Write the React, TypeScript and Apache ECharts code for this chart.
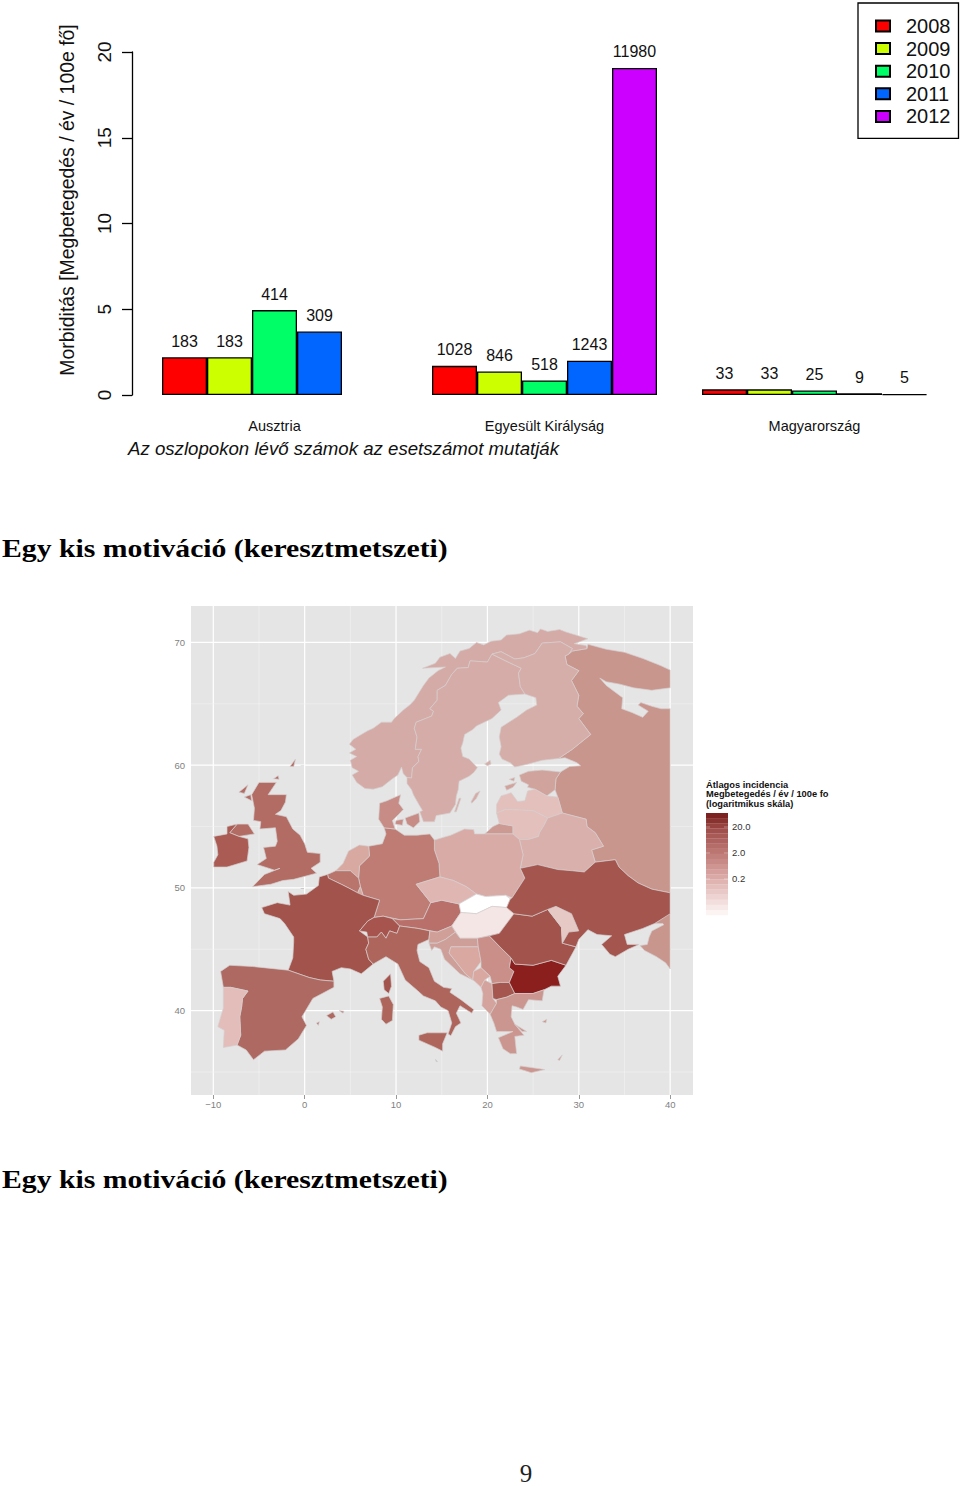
import React, { useEffect, useRef } from "react";
import * as echarts from "echarts";

const groups = ["Ausztria", "Egyesült Királyság", "Magyarország"];
const years = ["2008", "2009", "2010", "2011", "2012"];
const yearColors = ["#ff0000", "#ccff00", "#00ff66", "#0066ff", "#cc00ff"];
const rate2008 = [2.2, 1.7, 0.33];
const rate2009 = [2.2, 1.37, 0.33];
const rate2010 = [4.95, 0.85, 0.26];
const rate2011 = [3.7, 2.0, 0.1];
const rate2012: (number | null)[] = [null, 19.07, 0.05];
const cases2008 = ["183", "1028", "33"];
const cases2009 = ["183", "846", "33"];
const cases2010 = ["414", "518", "25"];
const cases2011 = ["309", "1243", "9"];
const cases2012 = ["", "11980", "5"];
const rates = [rate2008, rate2009, rate2010, rate2011, rate2012];
const cases = [cases2008, cases2009, cases2010, cases2011, cases2012];

const lonMajor = [-10, 0, 10, 20, 30, 40];
const lonMinor = [-5, 5, 15, 25, 35];
const latMajor = [40, 50, 60, 70];
const latMinor = [35, 45, 55, 65];
const legendLabels = ["20.0", "2.0", "0.2"];

type P = number[];
const norway: P = [11.2,59.0,10.8,59.3,10.6,59.85,10.2,59.2,9.6,58.9,8.5,58.25,7.5,58.05,6.6,58.1,5.7,58.6,5.2,59.2,5.9,59.5,5.2,59.8,5.0,60.4,5.7,60.7,4.9,61.0,5.6,61.3,4.9,61.7,5.3,62.1,6.2,62.5,6.9,62.8,7.5,63.0,8.4,63.5,9.5,63.5,9.8,63.8,10.8,64.5,11.5,64.9,12.0,65.3,12.5,65.9,13.0,66.5,13.6,67.1,14.6,67.7,15.4,68.0,12.9,67.9,14.3,68.3,14.8,68.8,15.9,69.1,16.5,68.7,17.0,69.3,18.0,69.5,18.8,70.0,19.6,69.8,20.4,70.1,21.5,70.2,22.1,70.6,23.5,70.7,24.6,71.0,25.5,70.8,25.8,71.1,26.6,70.9,27.9,71.05,28.6,70.85,31.0,70.3,29.5,69.9,30.8,69.75,30.9,69.5,29.3,69.3,28.9,69.05,29.3,69.5,28.0,70.05,26.0,69.95,25.2,69.1,24.0,68.75,23.0,68.65,21.5,69.25,20.5,69.05,20.0,68.4,18.1,68.5,17.9,67.95,16.7,67.9,16.1,67.4,15.4,66.5,14.5,66.1,14.5,65.3,13.7,64.6,14.1,64.4,13.9,64.0,12.2,63.5,12.0,63.0,12.3,62.3,12.1,61.3,12.8,61.3,12.4,60.7,12.5,60.3,11.8,59.8,11.7,58.95];
const sweden: P = [11.2,59.0,11.2,58.5,11.7,58.0,11.9,57.6,12.5,56.8,12.9,56.3,12.6,56.2,13.0,55.4,14.2,55.4,14.4,55.9,15.9,56.1,16.5,56.8,16.6,57.5,16.8,58.0,16.9,58.7,18.0,59.1,18.5,59.4,18.9,59.8,18.0,60.5,17.3,60.7,17.1,61.4,17.3,61.8,17.5,62.5,18.4,62.9,18.8,63.2,20.5,63.8,21.5,64.5,21.2,65.1,22.3,65.7,24.1,65.8,23.6,66.4,23.4,67.5,23.7,67.9,22.0,68.5,20.5,69.05,20.0,68.4,18.1,68.5,17.9,67.95,16.7,67.9,16.1,67.4,15.4,66.5,14.5,66.1,14.5,65.3,13.7,64.6,14.1,64.4,13.9,64.0,12.2,63.5,12.0,63.0,12.3,62.3,12.1,61.3,12.8,61.3,12.4,60.7,12.5,60.3,11.8,59.8,11.7,58.95];
const gotland: P = [18.2,57.0,18.7,57.7,19.2,57.9,18.8,57.3,18.3,56.9];
const oland: P = [16.4,56.2,16.9,57.3,17.1,57.3,16.6,56.2];
const finland: P = [24.1,65.8,25.3,65.5,25.4,64.9,24.3,64.5,23.2,63.9,21.5,63.1,21.3,62.3,21.5,61.5,21.3,60.9,21.6,60.5,22.5,60.2,23.0,59.85,24.5,60.1,26.0,60.4,27.8,60.55,29.3,61.3,31.3,62.5,30.0,63.8,30.5,64.2,29.8,64.8,30.0,65.7,29.2,66.9,30.0,67.7,28.7,68.2,28.5,68.9,28.9,69.05,29.3,69.5,28.0,70.05,26.0,69.95,25.2,69.1,24.0,68.75,23.0,68.65,21.5,69.25,20.5,69.05,22.0,68.5,23.7,67.9,23.4,67.5,23.6,66.4];
const aland: P = [19.7,60.1,20.3,60.4,20.4,60.1,20.0,59.95];
const russia: P = [29.3,69.3,30.9,69.5,31.0,69.85,33.0,69.45,35.0,69.2,37.0,68.7,39.0,68.1,40.0,67.75,40.0,66.3,38.0,66.1,36.0,66.3,34.5,66.6,33.0,66.8,32.3,67.1,33.0,66.5,34.8,65.5,34.7,64.6,35.8,64.3,37.0,63.9,37.6,64.4,36.5,64.9,36.8,65.1,38.0,64.8,39.0,64.6,40.0,64.6,40.0,49.6,38.0,49.9,36.5,50.4,35.4,51.0,34.4,51.7,34.0,52.3,31.8,52.1,31.4,53.1,32.7,53.4,31.8,54.5,30.9,55.0,30.8,55.6,28.2,56.1,27.7,57.4,27.4,58.0,27.5,58.9,28.0,59.45,29.0,59.9,30.2,59.95,29.8,60.2,28.5,60.6,27.8,60.55,29.3,61.3,31.3,62.5,30.0,63.8,30.5,64.2,29.8,64.8,30.0,65.7,29.2,66.9,30.0,67.7,28.7,68.2,28.5,68.9,28.9,69.05];
const russiaSouth: P = [40.0,47.9,39.8,47.85,38.3,47.1,39.2,47.1,39.3,47.0,38.0,46.5,37.7,46.0,37.5,45.4,36.7,45.3,37.2,44.9,38.5,44.4,39.5,43.9,40.0,43.4];
const kaliningrad: P = [19.7,54.4,22.8,54.4,22.8,55.05,21.3,55.25,20.6,55.0];
const estonia: P = [23.5,59.2,24.5,59.5,26.0,59.6,28.0,59.45,27.5,58.9,27.4,58.0,26.5,57.5,25.2,58.05,24.4,58.2,24.5,58.4,23.7,58.7];
const saaremaa: P = [21.9,58.3,23.2,58.6,22.8,58.2,22.1,57.96];
const hiiumaa: P = [22.4,58.85,23.0,59.0,22.9,58.7];
const latvia: P = [21.0,56.8,21.5,57.5,22.6,57.75,23.3,57.05,24.1,57.1,24.4,57.9,25.2,58.05,26.5,57.5,27.7,57.4,28.2,56.1,26.6,55.7,25.0,56.3,22.0,56.4,21.0,56.1];
const lithuania: P = [21.0,56.1,22.0,56.4,25.0,56.3,26.6,55.7,26.2,55.1,25.7,54.5,25.6,54.2,24.5,53.95,23.5,53.95,22.8,54.4,22.8,55.05,21.3,55.25];
const belarus: P = [28.2,56.1,30.8,55.6,30.9,55.0,31.8,54.5,32.7,53.4,31.4,53.1,31.8,52.1,30.6,51.3,29.3,51.4,27.7,51.5,25.5,51.9,23.6,51.6,23.9,52.7,23.5,53.95,24.5,53.95,25.6,54.2,25.7,54.5,26.2,55.1,26.6,55.7];
const poland: P = [14.2,53.9,16.0,54.3,17.5,54.8,18.5,54.75,18.6,54.4,19.7,54.4,22.8,54.4,23.5,53.95,23.9,52.7,23.6,51.6,24.1,50.8,22.7,49.2,22.0,49.4,19.8,49.3,18.8,49.5,17.7,50.1,16.3,50.6,14.8,50.9,14.7,52.0,14.2,53.1];
const germany: P = [8.7,54.9,9.9,54.8,10.9,54.3,12.3,54.3,13.7,54.4,14.2,53.9,14.2,53.1,14.7,52.0,14.8,50.9,12.2,50.3,13.8,48.8,13.0,47.5,10.5,47.4,8.6,47.7,7.6,47.6,8.2,49.0,6.4,49.4,6.1,50.1,5.9,50.8,6.0,51.8,7.1,52.6,7.0,53.4,8.5,53.6,8.9,54.4];
const jutland: P = [8.1,55.6,8.7,54.9,9.9,54.8,9.6,55.5,10.3,56.0,10.8,56.4,10.3,56.9,10.5,57.6,9.0,57.1,8.2,56.9];
const zealand: P = [11.0,55.7,12.5,56.1,12.6,55.4,11.9,54.9,11.2,55.2];
const funen: P = [10.0,55.5,10.8,55.6,10.7,55.1,9.9,55.2];
const netherlands: P = [3.4,51.4,4.2,52.0,4.8,53.0,6.0,53.5,7.0,53.4,7.1,52.6,6.0,51.8,5.9,50.8,5.0,51.4];
const belgium: P = [2.5,51.1,3.4,51.4,5.0,51.4,5.9,50.8,6.1,50.1,5.8,49.6,4.8,50.0,4.0,50.3,2.6,50.8];
const luxembourg: P = [5.8,49.6,6.1,50.1,6.4,49.4,5.9,49.45];
const france: P = [2.5,51.1,2.6,50.8,4.0,50.3,4.8,50.0,5.8,49.6,6.4,49.4,8.2,49.0,7.6,47.6,6.9,47.3,6.0,46.5,6.9,46.0,7.0,45.5,6.7,45.0,7.0,44.2,7.5,43.8,6.2,43.0,5.0,43.4,4.0,43.5,3.0,43.2,3.2,42.4,1.7,42.5,0.5,42.7,-1.8,43.3,-1.3,44.3,-1.2,45.6,-1.2,46.0,-2.2,47.1,-2.7,47.5,-4.4,47.9,-4.7,48.4,-3.0,48.8,-1.6,48.6,-1.8,49.7,-1.2,49.4,0.2,49.5,1.5,50.2,1.6,50.9];
const corsica: P = [8.6,42.4,9.4,43.0,9.5,42.0,9.2,41.4,8.7,41.7];
const switzerland: P = [6.0,46.5,6.9,47.3,7.6,47.6,8.6,47.7,9.6,47.5,10.4,46.9,10.1,46.3,9.3,46.5,8.9,45.9,8.4,46.4,7.9,46.0,6.9,46.0,6.8,46.4];
const austria: P = [9.6,47.5,10.5,47.4,13.0,47.5,13.8,48.8,15.0,49.0,16.9,48.7,17.1,48.0,16.1,46.9,14.5,46.4,12.4,46.7,10.4,46.9];
const italy: P = [6.7,45.0,7.0,45.5,6.9,46.0,7.9,46.0,8.4,46.4,8.9,45.9,9.3,46.5,10.1,46.3,10.4,46.9,12.4,46.7,13.7,46.5,13.6,45.8,12.4,45.4,12.3,44.9,12.6,44.0,13.6,43.5,14.2,42.4,15.2,41.9,16.1,41.8,15.9,41.5,17.1,40.9,18.5,40.1,18.3,39.8,17.0,40.4,16.6,39.8,17.1,39.0,16.5,38.7,16.0,37.95,15.7,38.1,16.1,39.0,15.7,40.0,14.9,40.3,14.3,40.8,13.0,41.2,12.4,41.6,11.0,42.5,10.2,43.8,8.9,44.4,7.5,43.8,7.0,44.2];
const sicily: P = [12.5,38.0,13.4,38.2,15.6,38.2,15.1,37.3,15.1,36.7,14.3,37.0,12.5,37.6];
const sardinia: P = [8.2,41.0,9.2,41.2,9.7,40.5,9.6,39.2,8.9,38.9,8.4,39.3,8.5,40.3];
const spain: P = [-9.2,43.2,-8.2,43.7,-5.7,43.6,-1.8,43.3,0.5,42.7,1.7,42.5,3.2,42.4,3.2,41.9,0.9,41.0,-0.3,39.5,0.2,38.8,-0.7,37.7,-2.1,36.8,-4.4,36.7,-5.6,36.0,-6.4,36.8,-7.4,37.2,-7.0,38.0,-7.1,39.5,-6.9,40.3,-6.8,41.0,-6.2,41.6,-8.1,41.9,-8.9,41.9];
const portugal: P = [-8.9,41.9,-8.1,41.9,-6.2,41.6,-6.8,41.0,-6.9,40.3,-7.1,39.5,-7.0,38.0,-7.4,37.2,-8.9,37.0,-8.8,38.4,-9.5,38.7,-8.9,40.2];
const majorca: P = [2.4,39.6,3.1,39.9,3.4,39.5,2.9,39.3];
const minorca: P = [3.8,40.0,4.3,39.95,4.2,39.8];
const ibiza: P = [1.3,39.0,1.6,39.1,1.5,38.8];
const britain: P = [-5.7,50.1,-3.7,50.3,-2.4,50.6,-1.2,50.7,1.3,51.2,0.7,51.6,1.7,52.1,1.7,52.8,0.3,52.9,0.0,53.6,-0.5,54.3,-1.3,54.8,-2.0,55.8,-3.2,56.0,-2.6,56.3,-2.1,57.0,-2.0,57.6,-4.0,57.6,-3.1,58.6,-5.0,58.6,-5.8,57.6,-5.5,56.5,-5.6,55.5,-4.8,55.4,-4.9,54.8,-3.2,54.9,-3.0,53.8,-3.2,53.4,-4.5,53.3,-4.2,52.4,-5.2,51.9,-3.3,51.45,-2.7,51.6,-4.4,51.1,-5.7,50.1];
const nireland: P = [-7.2,54.2,-5.5,54.4,-6.2,55.2,-7.4,55.2,-8.2,54.5];
const ireland: P = [-9.95,51.7,-8.5,51.7,-6.3,52.2,-6.1,53.3,-6.2,54.0,-7.2,54.2,-8.2,54.5,-7.4,55.2,-8.5,55.0,-8.5,54.4,-9.95,54.2,-9.6,53.4,-9.5,52.7,-9.95,52.1];
const shetland: P = [-1.6,59.9,-1.0,60.5,-1.2,59.9];
const orkney: P = [-3.4,58.9,-2.9,59.15,-2.8,58.85];
const hebrides: P = [-7.2,57.8,-6.2,58.4,-6.6,57.7];
const skye: P = [-6.6,57.4,-5.9,57.6,-5.8,57.1];
const czechia: P = [12.2,50.3,14.8,50.9,16.3,50.6,17.7,50.1,18.8,49.5,16.9,48.7,15.0,49.0,13.8,48.8];
const slovakia: P = [16.9,48.7,18.8,49.5,19.8,49.3,22.0,49.4,22.5,49.1,22.1,48.4,20.5,48.5,18.8,47.9,17.1,48.0];
const hungary: P = [16.1,46.9,17.1,48.0,18.8,47.9,20.5,48.5,22.1,48.4,22.9,47.9,21.3,46.3,20.2,46.1,18.9,45.9,17.0,45.9];
const slovenia: P = [13.6,45.8,13.7,46.5,14.5,46.4,16.1,46.9,16.5,46.4,15.4,45.8,14.5,45.5,13.6,45.5];
const croatia: P = [13.6,45.5,14.5,45.5,15.4,45.8,16.5,46.4,17.0,45.9,18.9,45.9,19.0,45.2,16.0,45.2,15.8,44.7,17.6,43.0,18.4,42.5,17.0,43.0,15.3,44.2,14.9,45.0,14.2,45.2,13.9,44.9];
const bosnia: P = [16.0,45.2,19.0,45.2,19.3,44.0,18.5,43.2,18.4,42.5,17.6,43.0,15.8,44.7];
const serbia: P = [18.9,45.9,20.2,46.1,21.5,45.1,22.6,44.3,22.4,43.5,22.9,43.2,22.4,42.3,21.4,42.3,20.5,42.2,20.3,42.8,19.3,43.5,19.3,44.0,19.0,45.2];
const montenegro: P = [18.4,42.5,18.5,43.2,19.3,43.5,20.3,42.8,19.7,42.5,19.3,41.9,18.6,42.4];
const albania: P = [19.3,41.9,19.7,42.5,20.5,42.2,20.6,41.0,21.0,40.6,20.3,39.7,19.4,40.4,19.5,41.4];
const macedonia: P = [20.5,42.2,21.4,42.3,22.4,42.3,23.0,41.4,22.1,41.1,21.0,40.9,20.6,41.0];
const bulgaria: P = [22.6,44.3,23.0,43.8,25.0,43.7,27.0,44.1,28.6,43.7,27.7,42.8,28.0,42.0,27.0,42.0,26.2,41.7,25.0,41.4,23.0,41.4,22.4,42.3,22.9,43.2,22.4,43.5];
const romania: P = [20.2,46.1,21.3,46.3,22.9,47.9,24.9,47.7,26.6,48.25,28.1,46.8,28.2,45.5,29.7,45.2,28.6,43.7,27.0,44.1,25.0,43.7,23.0,43.8,22.6,44.3,21.5,45.1];
const moldova: P = [26.6,48.25,27.5,48.5,29.2,47.9,30.0,46.5,28.9,46.4,28.2,45.5,28.1,46.8];
const ukraine: P = [22.1,48.4,22.5,49.1,22.7,49.2,24.1,50.8,23.6,51.6,25.5,51.9,27.7,51.5,29.3,51.4,30.6,51.3,31.8,52.1,34.0,52.3,34.4,51.7,35.4,51.0,36.5,50.4,38.0,49.9,40.0,49.6,40.0,47.9,38.3,47.1,37.0,46.7,35.0,46.2,35.3,45.4,36.6,45.4,35.4,45.0,34.0,44.4,33.4,44.6,32.5,45.4,33.6,46.1,32.0,46.2,31.0,46.6,30.0,45.8,29.7,45.2,28.2,45.5,28.9,46.4,30.0,46.5,29.2,47.9,27.5,48.5,26.6,48.25,24.9,47.7,22.9,47.9];
const greece: P = [20.3,39.7,21.0,40.6,21.0,40.9,22.1,41.1,23.0,41.4,25.0,41.4,26.2,41.7,26.0,40.8,24.5,40.9,23.9,40.1,23.2,40.3,22.7,40.4,22.6,39.5,23.0,38.9,24.0,38.0,23.0,37.9,23.2,36.5,22.5,36.5,21.7,36.9,21.2,37.8,22.8,38.3,21.0,38.3,20.7,39.0];
const crete: P = [23.6,35.5,26.3,35.2,24.8,34.95,23.5,35.25];
const rhodes: P = [27.7,36.0,28.2,36.4,27.9,35.95];
const lesbos: P = [26.0,39.1,26.5,39.3,26.4,39.0];
const euboea: P = [23.0,38.9,24.3,38.3,23.8,38.3];
const malta: P = [14.3,36.05,14.55,35.85,14.4,35.85];

const C = { nordic: "#d4aba6", russia: "#c9968e", baltic: "#e4c0bc", pl: "#d8aba6", de: "#be7c75", fr: "#a1534c", uk: "#b26c64", ie: "#aa5c54", es: "#ae6a62", pt: "#e3bdb9", it: "#ae655c", ua: "#a3554e", ro: "#a1534c" };
const countries: [P, string][] = [
  [russia, C.russia], [russiaSouth, C.russia], [kaliningrad, "#cc9a92"], [norway, C.nordic], [sweden, "#d5aca7"], [gotland, "#d5aca7"], [oland, "#d5aca7"], [finland, "#d6aea9"], [aland, "#d6aea9"],
  [estonia, "#d0a39c"], [saaremaa, "#d0a39c"], [hiiumaa, "#d0a39c"], [latvia, C.baltic], [lithuania, "#e4c0bc"], [belarus, "#d9b0ab"], [poland, C.pl],
  [germany, C.de], [jutland, "#c68c85"], [zealand, "#c68c85"], [funen, "#c68c85"], [netherlands, "#d8a9a1"], [belgium, "#b9746c"], [luxembourg, "#d8a9a1"],
  [france, C.fr], [corsica, C.fr], [switzerland, "#a6544d"], [austria, "#b9706a"], [italy, C.it], [sicily, C.it], [sardinia, C.it],
  [spain, C.es], [majorca, C.es], [minorca, C.es], [ibiza, C.es], [portugal, C.pt], [britain, C.uk], [nireland, C.uk], [shetland, C.uk], [orkney, C.uk], [hebrides, C.uk], [skye, C.uk], [ireland, C.ie],
  [czechia, "#e0b6b2"], [slovakia, "#ffffff"], [hungary, "#f3e6e4"], [slovenia, "#cf9f98"], [croatia, "#cd9f98"], [bosnia, "#d9a8a1"], [serbia, "#c98f88"], [montenegro, "#d9a8a1"], [albania, "#d4a39d"], [macedonia, "#a5564f"],
  [bulgaria, "#8a1f1e"], [romania, C.ro], [moldova, "#e6c9c4"], [ukraine, C.ua], [greece, "#cb968f"], [crete, "#cb968f"], [rhodes, "#cb968f"], [lesbos, "#cb968f"], [euboea, "#cb968f"], [malta, "#a9a9a9"],
];

const SANS = "Liberation Sans";
const SERIF = "Liberation Serif";
const MAP_STROKE = "#d6cfce";

function buildOption() {
  const gridItems: number[][] = [];
  lonMajor.forEach((v) => gridItems.push([0, v, 1]));
  lonMinor.forEach((v) => gridItems.push([0, v, 0]));
  latMajor.forEach((v) => gridItems.push([1, v, 1]));
  latMinor.forEach((v) => gridItems.push([1, v, 0]));
  const XMIN = -12.44, XMAX = 42.5, YMIN = 33.13, YMAX = 72.97;

  const barSeries = years.map((y, i) => ({
    name: y,
    type: "bar",
    xAxisIndex: 0,
    yAxisIndex: 0,
    barWidth: 45,
    barGap: "0%",
    data: rates[i],
    itemStyle: { color: yearColors[i], borderColor: "#000", borderWidth: 1.3 },
    label: {
      show: true,
      position: "top",
      distance: 8,
      fontFamily: SANS,
      fontSize: 16,
      color: "#111",
      formatter: (p: any) => cases[i][p.dataIndex],
    },
  }));

  const steps = 20;
  const stops = [[0, [124, 35, 34]], [0.14, [159, 77, 74]], [0.39, [190, 122, 118]], [0.65, [220, 173, 170]], [1, [251, 244, 243]]] as [number, number[]][];
  const colorAt = (t: number) => {
    for (let i = 1; i < stops.length; i++) {
      if (t <= stops[i][0]) {
        const f = (t - stops[i - 1][0]) / (stops[i][0] - stops[i - 1][0]);
        const c = stops[i - 1][1].map((a, k) => Math.round(a + (stops[i][1][k] - a) * f));
        return `rgb(${c.join(",")})`;
      }
    }
    return "#fff";
  };
  const barEls: any[] = [];
  for (let i = 0; i < steps; i++) {
    barEls.push({ type: "rect", shape: { x: 706, y: 813 + i * 5.1, width: 22, height: 5.3 }, style: { fill: colorAt(i / (steps - 1)) } });
  }
  [827, 853, 879].forEach((y, i) => {
    barEls.push({ type: "line", shape: { x1: 706, y1: y, x2: 710, y2: y }, style: { stroke: "#ffffff", opacity: 0.6, lineWidth: 0.6 } });
    barEls.push({ type: "line", shape: { x1: 724, y1: y, x2: 728, y2: y }, style: { stroke: "#ffffff", opacity: 0.6, lineWidth: 0.6 } });
    barEls.push({ type: "text", x: 732, y: y - 0.5, style: { text: legendLabels[i], fontFamily: SANS, fontSize: 9.5, fill: "#333", textVerticalAlign: "middle" } });
  });

  const title = (y: number) => ({
    type: "text", x: 2, y, scaleX: 1.143,
    style: { text: "Egy kis motiváció (keresztmetszeti)", fontFamily: SERIF, fontWeight: "bold", fontSize: 26, fill: "#000", textVerticalAlign: "middle" },
  });

  return {
    animation: false,
    backgroundColor: "#fff",
    grid: [
      { left: 139.5, top: 52, width: 810, height: 343 },
      { left: 191, top: 606, width: 502, height: 489, backgroundColor: "#e5e5e5", show: true, borderWidth: 0 },
    ],
    legend: {
      data: years,
      orient: "vertical",
      left: 858,
      top: 3,
      icon: "rect",
      padding: [13, 8, 12, 17],
      itemWidth: 14,
      itemHeight: 11,
      itemGap: 2.6,
      borderColor: "#000",
      borderWidth: 1.3,
      textStyle: { fontFamily: SANS, fontSize: 20, color: "#111", padding: [0, 0, 0, 11] },
    },
    xAxis: [
      {
        gridIndex: 0, type: "category", data: groups,
        axisLine: { show: false }, axisTick: { show: false },
        axisLabel: { fontFamily: SANS, fontSize: 14.5, color: "#111", margin: 23 },
      },
      {
        gridIndex: 1, type: "value", min: XMIN, max: XMAX,
        axisLine: { show: false }, splitLine: { show: false },
        axisTick: { customValues: lonMajor, length: 4, lineStyle: { color: "#7f7f7f", width: 0.8 } },
        axisLabel: {
          customValues: lonMajor, fontFamily: SANS, fontSize: 9.5, color: "#7f7f7f", margin: 4,
          formatter: (v: number) => String(v).replace("-", "\u2212"),
        },
      },
    ],
    yAxis: [
      {
        gridIndex: 0, type: "value", min: 0, max: 20, interval: 5, offset: 7.5,
        splitLine: { show: false },
        axisLine: { show: true, lineStyle: { color: "#000", width: 1.3 } },
        axisTick: { show: true, length: 10, lineStyle: { color: "#000", width: 1.3 } },
        axisLabel: { rotate: 90, fontFamily: SANS, fontSize: 19, color: "#111", margin: 18 },
      },
      {
        gridIndex: 1, type: "value", min: YMIN, max: YMAX,
        axisLine: { show: false }, splitLine: { show: false },
        axisTick: { customValues: latMajor, length: 4, lineStyle: { color: "#7f7f7f", width: 0.8 } },
        axisLabel: { customValues: latMajor, fontFamily: SANS, fontSize: 9.5, color: "#7f7f7f", margin: 6 },
      },
    ],
    series: [
      ...barSeries,
      {
        type: "custom", xAxisIndex: 1, yAxisIndex: 1, silent: true, z: 1, clip: false,
        data: gridItems.map((g, i) => [g[0] === 0 ? g[1] : XMIN, g[0] === 1 ? g[1] : YMIN, i]),
        encode: { x: 0, y: 1 },
        renderItem: (_p: any, api: any) => {
          const g = gridItems[api.value(2)];
          const a = g[0] === 0 ? api.coord([g[1], YMIN]) : api.coord([XMIN, g[1]]);
          const b = g[0] === 0 ? api.coord([g[1], YMAX]) : api.coord([XMAX, g[1]]);
          return {
            type: "line",
            shape: { x1: a[0], y1: a[1], x2: b[0], y2: b[1] },
            style: { stroke: g[2] ? "#ffffff" : "#f2f2f2", lineWidth: g[2] ? 1.2 : 0.6 },
          };
        },
      },
      {
        type: "custom", xAxisIndex: 1, yAxisIndex: 1, silent: true, z: 2, clip: false,
        data: countries.map((c, i) => [c[0][0], c[0][1], i]),
        encode: { x: 0, y: 1 },
        renderItem: (_p: any, api: any) => {
          const [flat, color] = countries[api.value(2)];
          const points: number[][] = [];
          for (let k = 0; k < flat.length; k += 2) points.push(api.coord([flat[k], flat[k + 1]]));
          return { type: "polygon", shape: { points }, style: { fill: color, stroke: MAP_STROKE, lineWidth: 0.7 } };
        },
      },
    ],
    graphic: [
      {
        type: "text", x: 67, y: 200, rotation: Math.PI / 2,
        style: { text: "Morbiditás [Megbetegedés / év / 100e fő]", fontFamily: SANS, fontSize: 19.4, fill: "#111", textAlign: "center", textVerticalAlign: "middle" },
      } as any,
      { type: "text", x: 128, y: 448, style: { text: "Az oszlopokon lévő számok az esetszámot mutatják", fontFamily: SANS, fontStyle: "italic", fontSize: 18.65, fill: "#111", textVerticalAlign: "middle" } },
      title(548),
      title(1179),
      {
        type: "text", x: 706, y: 780,
        style: { text: "Átlagos incidencia\nMegbetegedés / év / 100e fo\n(logaritmikus skála)", fontFamily: SANS, fontWeight: "bold", fontSize: 9.3, lineHeight: 9.5, fill: "#111" },
      },
      ...barEls,
      { type: "text", x: 526, y: 1473, style: { text: "9", fontFamily: SERIF, fontSize: 25, fill: "#222", textAlign: "center", textVerticalAlign: "middle" } },
    ],
  };
}

export default function App() {
  const ref = useRef<HTMLDivElement>(null);
  useEffect(() => {
    document.body.style.margin = "0";
    const chart = echarts.init(ref.current!, null, { renderer: "svg" });
    chart.setOption(buildOption() as any);
    return () => chart.dispose();
  }, []);
  return <div ref={ref} style={{ width: 960, height: 1486 }} />;
}
